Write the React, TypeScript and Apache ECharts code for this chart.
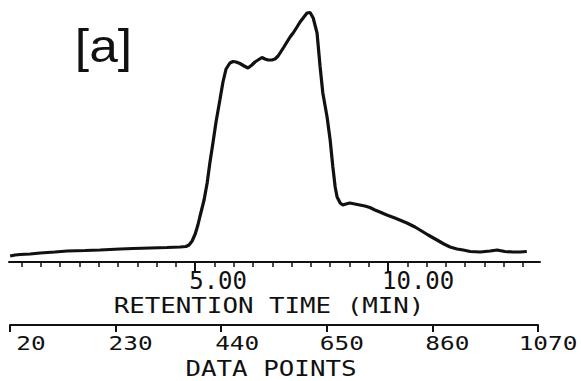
import React, { useEffect, useRef } from "react";
import * as echarts from "echarts";

// ---- data ----
const retentionTime = [
  0.2, 0.33, 0.46, 0.72, 0.98, 1.36, 1.68, 2.14, 2.53, 3.05, 3.39, 3.83, 4.27, 4.61, 4.76, 4.84, 4.92,
  5.0, 5.07, 5.12, 5.23, 5.31, 5.38, 5.46, 5.54, 5.64, 5.72, 5.8, 5.9, 5.98, 6.06, 6.16, 6.27, 6.37,
  6.47, 6.55, 6.63, 6.73, 6.81, 6.89, 6.99, 7.07, 7.15, 7.2, 7.3, 7.38, 7.46, 7.54, 7.64, 7.72, 7.8,
  7.9, 7.98, 8.06, 8.16, 8.24, 8.31, 8.42, 8.5, 8.57, 8.63, 8.68, 8.76, 8.83, 8.91, 9.01, 9.14, 9.27,
  9.4, 9.53, 9.66, 9.79, 9.97, 10.18, 10.49, 10.7, 10.83, 11.04, 11.27, 11.45, 11.61, 11.79, 11.95,
  12.13, 12.39, 12.65, 12.83, 13.03, 13.24, 13.42, 13.6,
];
const intensity = [
  6, 7, 7.5, 8, 9, 10, 11, 11.5, 12, 13, 13.5, 14, 14.5, 15, 15.5, 17, 21,
  28, 37, 45, 62, 79, 99, 119, 140, 162, 180, 193, 199, 200.5, 200, 198.5, 196, 194,
  197, 200, 202, 204.5, 203, 202, 202, 203, 206, 209, 215, 220, 225, 229, 235, 240, 244,
  249, 249.5, 244, 229, 195, 169, 145, 122, 95, 75, 65, 59, 57, 58, 59, 58, 57,
  56, 54.5, 52, 50, 47, 44, 39, 35, 32, 27, 22, 18, 15, 13, 12,
  10.5, 10, 11, 12, 10.5, 10, 10, 10.5,
];
const minorTickTimes = [
  0.5, 1, 1.5, 2, 2.5, 3, 3.5, 4, 4.5, 5, 5.5, 6, 6.5, 7, 7.5, 8, 8.5, 9, 9.5, 10, 10.5, 11, 11.5,
  12, 12.5, 13, 13.5,
];
const majorTickTimes = [5, 10];
const dataPointTicks = [20, 230, 440, 650, 860, 1070];
const panelLabel = "[a]";
const timeAxisTitle = "RETENTION TIME (MIN)";
const dataAxisTitle = "DATA POINTS";

// ---- layout / style ----
const TIME_MIN = 0.171;
const TIME_MAX = 13.942;
const INK = "#111";
const MONO = '"DejaVu Sans Mono", monospace';
const DP_LABEL_NUDGE = [21, 15, 16, 15, 15, 10];

export default function App() {
  const ref = useRef<HTMLDivElement>(null);

  useEffect(() => {
    const el = ref.current as HTMLDivElement;
    const chart = echarts.init(el, null, { renderer: "svg" });

    const option: any = {
      animation: false,
      backgroundColor: "#fff",
      grid: [
        { left: 9, right: 41, top: 2, bottom: 119 },
        { left: 10, right: 43, top: 320, bottom: 56 },
      ],
      xAxis: [
        {
          gridIndex: 0,
          type: "value",
          min: TIME_MIN,
          max: TIME_MAX,
          position: "bottom",
          axisLine: { show: true, onZero: false, lineStyle: { color: INK, width: 2 } },
          axisTick: {
            show: true,
            customValues: minorTickTimes,
            length: 5,
            lineStyle: { color: INK, width: 1.5 },
          },
          axisLabel: { show: false },
          splitLine: { show: false },
        },
        {
          gridIndex: 0,
          type: "value",
          min: TIME_MIN,
          max: TIME_MAX,
          position: "bottom",
          axisLine: { show: false, onZero: false },
          axisTick: {
            show: true,
            customValues: majorTickTimes,
            length: 10,
            lineStyle: { color: INK, width: 2 },
          },
          axisLabel: {
            show: true,
            customValues: majorTickTimes,
            formatter: (v: number) => v.toFixed(2),
            align: "left",
            padding: [0, 0, 0, -6],
            margin: 7,
            fontFamily: MONO,
            fontSize: 24,
            color: INK,
          },
          splitLine: { show: false },
        },
        {
          gridIndex: 1,
          type: "value",
          min: 20,
          max: 1070,
          interval: 210,
          position: "bottom",
          axisLine: { show: true, onZero: false, lineStyle: { color: INK, width: 2 } },
          axisTick: { show: true, length: 7, lineStyle: { color: INK, width: 2 } },
          axisLabel: { show: false },
          splitLine: { show: false },
        },
      ],
      yAxis: [
        { gridIndex: 0, type: "value", min: 0, max: 260, show: false },
        { gridIndex: 1, type: "value", min: 0, max: 1, show: false },
      ],
      series: [
        {
          type: "line",
          xAxisIndex: 0,
          yAxisIndex: 0,
          data: retentionTime.map((t, i) => [t, intensity[i]]),
          symbol: "none",
          showSymbol: false,
          lineStyle: { color: INK, width: 3.2 },
          clip: false,
        },
      ],
    };

    chart.setOption(option);

    const textEl = (text: string, x: number, y: number, font: string, scaleX: number) => ({
      type: "text",
      x,
      y,
      scaleX,
      silent: true,
      style: {
        text,
        font,
        fill: INK,
        align: "center",
        verticalAlign: "middle",
        textAlign: "center",
        textVerticalAlign: "middle",
      },
    });

    const graphics: any[] = [];
    dataPointTicks.forEach((v, i) => {
      const px = chart.convertToPixel({ xAxisIndex: 2 }, v) as number;
      graphics.push(textEl(String(v), px + DP_LABEL_NUDGE[i], 343, `20px ${MONO}`, 1.22));
    });
    graphics.push(textEl(timeAxisTitle, 269, 305.5, `21px ${MONO}`, 1.23));
    graphics.push(textEl(dataAxisTitle, 271, 368.7, `22px ${MONO}`, 1.175));
    graphics.push(textEl(panelLabel, 103.5, 46, '46px "Liberation Sans", Arial, sans-serif', 1.12));

    chart.setOption({ graphic: graphics });

    return () => chart.dispose();
  }, []);

  return (
    <div
      ref={ref}
      style={{ position: "fixed", left: 0, top: 0, width: 581, height: 381, background: "#fff" }}
    />
  );
}
